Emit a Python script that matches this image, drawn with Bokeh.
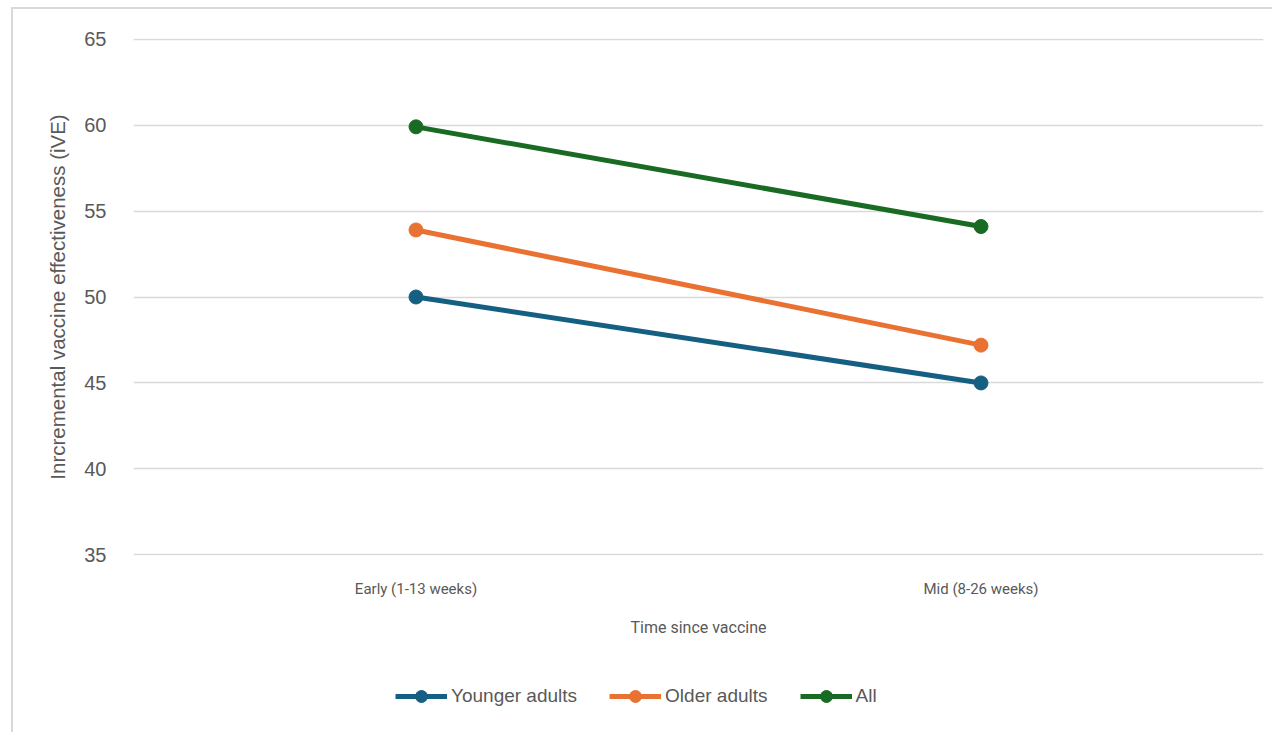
from bokeh.plotting import figure
from bokeh.models import Range1d, Legend, LegendItem, FactorRange
from bokeh.layouts import column
from bokeh.embed import file_html
from bokeh.resources import INLINE

categories = ["Early (1-13 weeks)", "Mid (8-26 weeks)"]
younger = [50.0, 45.0]
older = [53.9, 47.2]
all_ = [59.9, 54.1]
series_names = ["Younger adults", "Older adults", "All"]
colors = ["#156082", "#E97132", "#196B24"]
y_ticks = [35, 40, 45, 50, 55, 60, 65]

TXT = "#595959"

p = figure(width=1259, height=651, x_range=FactorRange(*categories, range_padding=0),
           y_range=Range1d(34.96, 65.04), output_backend="svg", toolbar_location=None,
           min_border_left=120, min_border_right=9, min_border_top=29, min_border_bottom=105)
p.outline_line_color = None

p.xgrid.grid_line_color = None
p.ygrid.grid_line_color = "#d9d9d9"
p.ygrid.grid_line_width = 1.5
p.yaxis.ticker = y_ticks

for ax in (p.xaxis[0], p.yaxis[0]):
    ax.axis_line_color = None
    ax.major_tick_line_color = None
    ax.minor_tick_line_color = None
    ax.major_label_text_color = TXT
    ax.axis_label_text_color = TXT
    ax.axis_label_text_font_style = "normal"

p.yaxis.major_label_text_font = "Liberation Sans"
p.yaxis.major_label_text_font_size = "20px"
p.yaxis.major_label_standoff = 21
p.yaxis.axis_label = "Inrcremental vaccine effectiveness (iVE)"
p.yaxis.axis_label_text_font = "Liberation Sans"
p.yaxis.axis_label_text_font_size = "20.5px"
p.yaxis.axis_label_standoff = 12

p.xaxis.major_label_text_font = "Roboto"
p.xaxis.major_label_text_font_size = "15px"
p.xaxis.major_label_standoff = 18
p.xaxis.axis_label = "Time since vaccine"
p.xaxis.axis_label_text_font = "Roboto"
p.xaxis.axis_label_text_font_size = "16px"
p.xaxis.axis_label_standoff = 17

series = [younger, older, all_]
for vals, c in zip(series, colors):
    p.line(categories, vals, line_color=c, line_width=5)
    p.scatter(categories, vals, size=14, fill_color=c, line_color=c)

# separate strip for the legend (below the chart); its series lie outside its view
lf = figure(width=1259, height=72, x_range=FactorRange(*categories, range_padding=0),
            y_range=Range1d(0, 1), output_backend="svg", toolbar_location=None,
            min_border_left=0, min_border_right=0, min_border_top=0, min_border_bottom=0)
lf.axis.visible = False
lf.grid.visible = False
lf.outline_line_color = None

items = []
for name, vals, c in zip(series_names, series, colors):
    l = lf.line(categories, vals, line_color=c, line_width=5)
    s = lf.scatter(categories, vals, size=14, fill_color=c, line_color=c)
    items.append(LegendItem(label=name, renderers=[l, s]))

legend = Legend(items=items, orientation="horizontal", location=(262, 21),
                glyph_width=52, glyph_height=30, label_standoff=4, spacing=32,
                label_text_font="Liberation Sans", label_text_font_size="19px",
                label_text_color=TXT, border_line_color=None, background_fill_alpha=0,
                padding=0, margin=0)
lf.add_layout(legend, "center")

layout = column(p, lf, spacing=0)
layout.styles = {"margin-left": "11px", "margin-top": "7px",
                 "border-left": "2px solid #d9d9d9", "border-top": "2px solid #d9d9d9"}

open("out.html", "w").write(file_html(layout, INLINE))
